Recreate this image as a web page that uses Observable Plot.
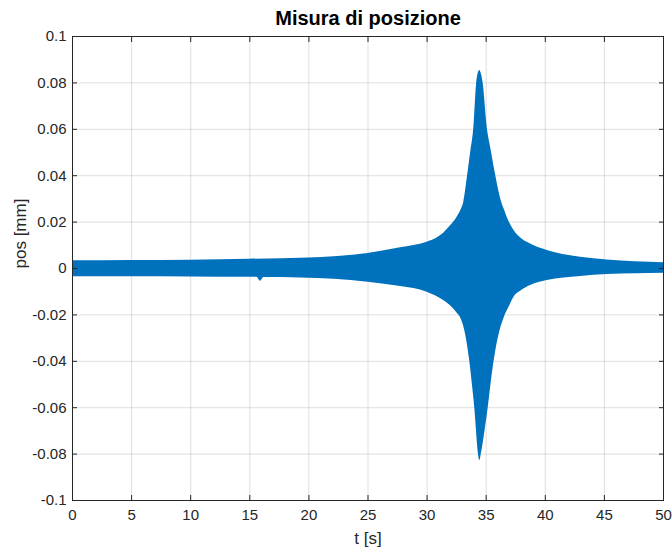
<!DOCTYPE html>
<html>
<head>
<meta charset="utf-8">
<script src="https://cdn.jsdelivr.net/npm/d3@7"></script>
<script src="https://cdn.jsdelivr.net/npm/@observablehq/plot@0.6"></script>
<style>
  html, body { margin: 0; padding: 0; background: #fff; }
</style>
</head>
<body>
<div id="chart"></div>
<script>
// Upper envelope of the oscillating position signal (t [s], pos [mm])
const upperT = [0, 5, 10, 15, 20, 25, 27.75, 30.0, 30.8, 31.4, 32.0, 32.5, 32.85, 33.1, 33.44, 33.7, 33.95, 34.18, 34.35, 34.46, 34.55, 34.74, 35.08, 35.4, 35.79, 36.2, 36.6, 37.0, 37.34, 38.0, 38.75, 40.16, 42.98, 45.24, 50];
const upperV = [0.0033, 0.0034, 0.0036, 0.0040, 0.0045, 0.0065, 0.0089, 0.0113, 0.0130, 0.0152, 0.0185, 0.0218, 0.0250, 0.0285, 0.0405, 0.0505, 0.0605, 0.0790, 0.0845, 0.0853, 0.0845, 0.0800, 0.0610, 0.0515, 0.0405, 0.0305, 0.0245, 0.0195, 0.0165, 0.0128, 0.0106, 0.0078, 0.0049, 0.0037, 0.0025];
// Lower envelope
const lowerT = [0, 5, 10, 15, 15.6, 15.9, 16.2, 19.3, 25, 27.75, 30.0, 31.4, 32.0, 32.5, 32.9, 33.16, 33.4, 33.61, 33.85, 34.04, 34.2, 34.32, 34.46, 34.62, 34.9, 35.16, 35.5, 35.9, 36.2, 36.5, 37.0, 37.34, 38.0, 38.75, 40.16, 42.98, 45.24, 50];
const lowerV = [-0.0036, -0.0036, -0.0037, -0.0038, -0.0038, -0.0055, -0.0039, -0.0041, -0.0059, -0.0078, -0.0102, -0.0138, -0.0162, -0.0190, -0.0220, -0.0262, -0.0325, -0.0400, -0.0510, -0.0605, -0.0715, -0.0790, -0.0828, -0.0790, -0.0700, -0.0605, -0.0460, -0.0330, -0.0262, -0.0215, -0.0160, -0.0125, -0.0095, -0.0073, -0.0052, -0.0034, -0.0026, -0.0020];

const xTicks = [0, 5, 10, 15, 20, 25, 30, 35, 40, 45, 50];
const yTicks = [-0.1, -0.08, -0.06, -0.04, -0.02, 0, 0.02, 0.04, 0.06, 0.08, 0.1];

const titleText = "Misura di posizione";
const xLabel = "t [s]";
const yLabel = "pos [mm]";

const upper = upperT.map((t, i) => ({t, v: upperV[i]}));
const lower = lowerT.map((t, i) => ({t, v: lowerV[i]}));

const blue = "#0072BD";
const axisColor = "#262626";
const font = "'Liberation Sans', Arial, Helvetica, sans-serif";

const chart = Plot.plot({
  width: 672,
  height: 549,
  marginLeft: 72,
  marginRight: 9,
  marginTop: 36,
  marginBottom: 49,
  style: {fontFamily: font, fontSize: "15px", color: axisColor, background: "#fff"},
  x: {domain: [0, 50]},
  y: {domain: [-0.1, 0.1]},
  marks: [
    Plot.gridX(xTicks, {stroke: axisColor, strokeOpacity: 0.15}),
    Plot.gridY(yTicks, {stroke: axisColor, strokeOpacity: 0.15}),
    Plot.areaY(upper, {x: "t", y1: 0, y2: "v", fill: blue, curve: "monotone-x"}),
    Plot.areaY(lower, {x: "t", y1: "v", y2: 0, fill: blue, curve: "monotone-x"}),
    Plot.axisX(xTicks, {anchor: "bottom", tickSize: -5, tickPadding: 14, tickFormat: d => String(d), label: null, stroke: axisColor, fill: axisColor, fontSize: 15}),
    Plot.axisX(xTicks, {anchor: "top", tickSize: -5, tickFormat: () => "", label: null, stroke: axisColor}),
    Plot.axisY(yTicks, {anchor: "left", tickSize: -5, tickPadding: 11, tickFormat: d => String(d), label: null, stroke: axisColor, fill: axisColor, fontSize: 15}),
    Plot.axisY(yTicks, {anchor: "right", tickSize: -5, tickFormat: () => "", label: null, stroke: axisColor}),
    Plot.frame({stroke: axisColor, strokeWidth: 1}),
    Plot.text([titleText], {frameAnchor: "top", lineAnchor: "middle", dy: -18, fontWeight: "bold", fontSize: 20, fill: "#000"}),
    Plot.text([xLabel], {frameAnchor: "bottom", lineAnchor: "middle", dy: 38, fontSize: 17, fill: axisColor}),
    Plot.text([yLabel], {frameAnchor: "left", lineAnchor: "middle", dx: -52, rotate: -90, fontSize: 17, fill: axisColor})
  ]
});
document.getElementById("chart").appendChild(chart);
</script>
</body>
</html>
